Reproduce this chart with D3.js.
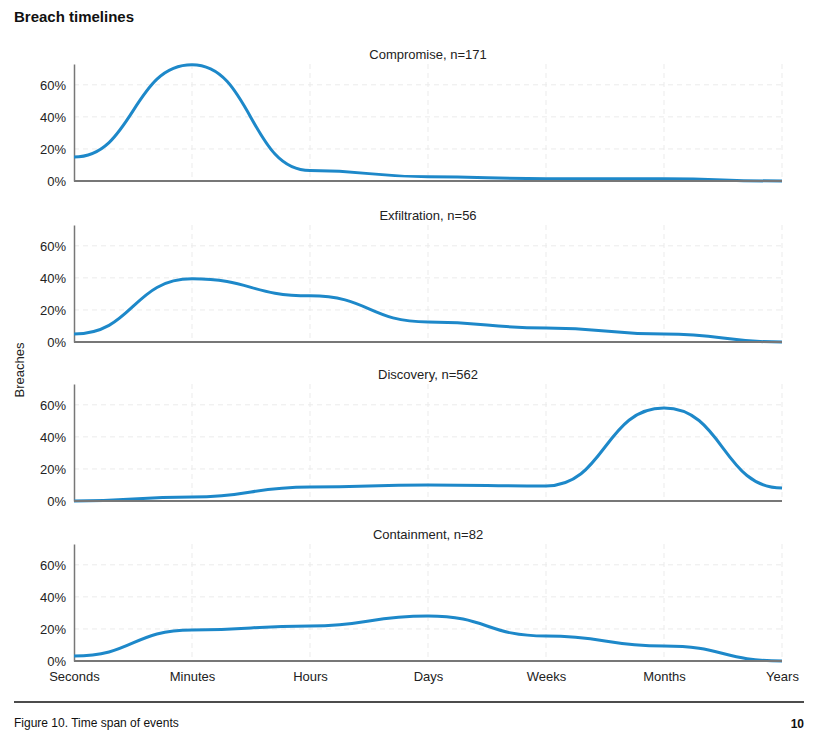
<!DOCTYPE html>
<html>
<head>
<meta charset="utf-8">
<script src="https://cdn.jsdelivr.net/npm/d3@7"></script>
<style>
  body { margin: 0; background: #fff; }
  svg { font-family: "Liberation Sans", Arial, sans-serif; }
  .grid line { stroke: #ebebeb; stroke-dasharray: 5,4; }
  .tick text { fill: #222; }
</style>
</head>
<body>
<div id="chart"></div>
<script>
var CATEGORIES = ['Seconds', 'Minutes', 'Hours', 'Days', 'Weeks', 'Months', 'Years'];

var PANELS = ['Compromise, n=171', 'Exfiltration, n=56', 'Discovery, n=562', 'Containment, n=82'];

var COMPROMISE   = [0.15, 0.725, 0.065, 0.027, 0.014, 0.014, 0.0];
var EXFILTRATION = [0.05, 0.394, 0.288, 0.125, 0.088, 0.05, 0.0];
var DISCOVERY    = [0.0, 0.025, 0.088, 0.10, 0.094, 0.58, 0.081];
var CONTAINMENT  = [0.031, 0.194, 0.219, 0.281, 0.156, 0.094, 0.0];

var SERIES = [COMPROMISE, EXFILTRATION, DISCOVERY, CONTAINMENT];
var Y_TICKS = [0, 0.2, 0.4, 0.6];

function drawChart() {
    var w = 839, h = 733,
        left = 74, right = 782,
        panelH = 117,
        bottoms = [181, 342, 501, 661];

    var svg = d3.select('#chart').append('svg')
        .attr('width', w)
        .attr('height', h);

    var x = d3.scalePoint()
        .domain(CATEGORIES)
        .range([left, right]);

    svg.append('text')
        .attr('x', 14).attr('y', 22)
        .attr('font-size', 15).attr('font-weight', 'bold')
        .attr('fill', '#111')
        .text('Breach timelines');

    SERIES.forEach(function(values, i) {
        var b = bottoms[i];
        var y = d3.scaleLinear()
            .domain([0, 0.73])
            .range([b, b - panelH]);

        var g = svg.append('g');

        // grid
        var grid = g.append('g').attr('class', 'grid');
        grid.selectAll('.hg')
            .data(Y_TICKS.slice(1))
            .enter().append('line')
            .attr('x1', left).attr('x2', right)
            .attr('y1', function(d) { return y(d); })
            .attr('y2', function(d) { return y(d); });
        grid.selectAll('.vg')
            .data(CATEGORIES.slice(1))
            .enter().append('line')
            .attr('x1', function(d) { return x(d); })
            .attr('x2', function(d) { return x(d); })
            .attr('y1', b - panelH).attr('y2', b);

        // y axis
        var ya = g.append('g')
            .attr('transform', 'translate(' + left + ',0)')
            .call(d3.axisLeft(y).tickValues(Y_TICKS).tickFormat(d3.format('.0%')).tickSize(0).tickPadding(8));
        ya.select('.domain').attr('stroke', '#777').attr('stroke-width', 1.5);
        ya.selectAll('text').attr('font-size', 13);

        // title
        g.append('text')
            .attr('x', (left + right) / 2)
            .attr('y', b - panelH - 5)
            .attr('text-anchor', 'middle')
            .attr('font-size', 13)
            .attr('fill', '#222')
            .text(PANELS[i]);

        // line
        var line = d3.line()
            .x(function(d, j) { return x(CATEGORIES[j]); })
            .y(function(d) { return y(d); })
            .curve(d3.curveBumpX);

        g.append('path')
            .datum(values)
            .attr('d', line)
            .attr('fill', 'none')
            .attr('stroke', '#1d88c9')
            .attr('stroke-width', 3);

        // baseline
        g.append('line')
            .attr('x1', left).attr('x2', right)
            .attr('y1', b).attr('y2', b)
            .attr('stroke', '#777').attr('stroke-width', 2);

        if (i === SERIES.length - 1) {
            var xa = g.append('g')
                .attr('transform', 'translate(0,' + b + ')')
                .call(d3.axisBottom(x).tickSize(0).tickPadding(11));
            xa.select('.domain').remove();
            xa.selectAll('text').attr('font-size', 13);
        }
    });

    svg.append('text')
        .attr('transform', 'translate(24,370) rotate(-90)')
        .attr('text-anchor', 'middle')
        .attr('font-size', 13)
        .attr('fill', '#222')
        .text('Breaches');

    svg.append('line')
        .attr('x1', 14).attr('x2', 804)
        .attr('y1', 702).attr('y2', 702)
        .attr('stroke', '#111').attr('stroke-width', 1.5);

    svg.append('text')
        .attr('x', 14).attr('y', 727)
        .attr('font-size', 12).attr('fill', '#111')
        .text('Figure 10.  Time span of events');

    svg.append('text')
        .attr('x', 804).attr('y', 728)
        .attr('text-anchor', 'end')
        .attr('font-size', 12).attr('font-weight', 'bold').attr('fill', '#111')
        .text('10');
}

drawChart();
</script>
</body>
</html>
